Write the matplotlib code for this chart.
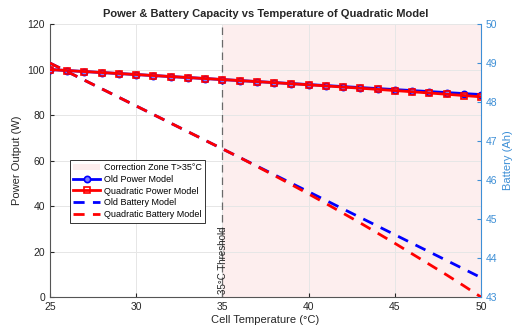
import matplotlib.pyplot as plt
import numpy as np

plt.rcParams['font.family'] = ['Liberation Sans', 'DejaVu Sans']

# data
temps = [25, 26, 27, 28, 29, 30, 31, 32, 33, 34, 35, 36, 37,
         38, 39, 40, 41, 42, 43, 44, 45, 46, 47, 48, 49, 50]
old_power = [100.0, 99.56, 99.12, 98.68, 98.24, 97.80, 97.36, 96.92, 96.48,
             96.04, 95.60, 95.16, 94.72, 94.28, 93.84, 93.40, 92.96, 92.52,
             92.08, 91.64, 91.20, 90.76, 90.32, 89.88, 89.44, 89.00]
quad_power = [100.0, 99.56, 99.12, 98.68, 98.24, 97.80, 97.36, 96.92, 96.48,
              96.04, 95.60, 95.15, 94.70, 94.24, 93.77, 93.29, 92.80, 92.30,
              91.80, 91.28, 90.76, 90.23, 89.69, 89.14, 88.58, 88.01]
old_batt = [49.00, 48.78, 48.56, 48.34, 48.12, 47.90, 47.68, 47.46, 47.24,
            47.02, 46.80, 46.58, 46.36, 46.14, 45.92, 45.70, 45.48, 45.26,
            45.04, 44.82, 44.60, 44.38, 44.16, 43.94, 43.72, 43.50]
quad_batt = [49.00, 48.78, 48.56, 48.34, 48.12, 47.90, 47.68, 47.46, 47.24,
             47.02, 46.80, 46.58, 46.35, 46.12, 45.885, 45.645, 45.40, 45.15,
             44.90, 44.64, 44.38, 44.11, 43.84, 43.57, 43.29, 43.00]
threshold = 35

blue_axis = '#3d8fd6'
dark = '#262626'

fig = plt.figure(figsize=(5.2, 3.29), dpi=100)
ax = fig.add_axes([0.096, 0.097, 0.829, 0.830])
ax2 = ax.twinx()

# shaded correction zone
zone = ax.axvspan(threshold, 50, color='#fdeeee', zorder=0, lw=0,
                  label='Correction Zone T>35°C')
ax.axvline(threshold, color='#6a6a6a', ls=(0, (6, 4)), lw=0.9, zorder=2)
ax.text(threshold + 0.05, 1.5, '35°C Threshold', rotation=90, fontsize=7,
        ha='center', va='bottom', color=dark, zorder=2.5)

# power
l1, = ax.plot(temps, old_power, '-o', color='#0000ff', lw=2, ms=4.5,
              mfc='#7f7fff', mew=1.2, label='Old Power Model', zorder=3)
l2, = ax.plot(temps, quad_power, '-s', color='#ff0000', lw=2, ms=3.8,
              mfc='none', mew=1.2, label='Quadratic Power Model', zorder=4)

# battery
l3, = ax2.plot(temps, old_batt, '--', color='#0000ff', lw=2,
               dashes=(4, 3), label='Old Battery Model')
l4, = ax2.plot(temps, quad_batt, '--', color='#ff0000', lw=2,
               dashes=(4, 3), label='Quadratic Battery Model')

ax.set_xlim(25, 50)
ax.set_ylim(0, 120)
ax2.set_ylim(43, 50)
ax.set_xticks([25, 30, 35, 40, 45, 50])
ax.set_yticks([0, 20, 40, 60, 80, 100, 120])
ax2.set_yticks([43, 44, 45, 46, 47, 48, 49, 50])

ax.grid(color='#e6e6e6', lw=0.7)
ax.tick_params(direction='in', labelsize=7.5, colors=dark, length=3)
ax2.tick_params(direction='in', labelsize=7.5, colors=blue_axis, length=3)

for a in (ax, ax2):
    a.spines['top'].set_visible(False)
ax.spines['left'].set_color('#555555')
ax.spines['bottom'].set_color('#555555')
ax.spines['right'].set_visible(False)
ax2.spines['left'].set_visible(False)
ax2.spines['bottom'].set_visible(False)
ax2.spines['right'].set_color(blue_axis)

ax.set_xlabel('Cell Temperature (°C)', fontsize=8, color=dark, labelpad=2)
ax.set_ylabel('Power Output (W)', fontsize=8, color=dark, labelpad=4)
ax2.set_ylabel('Battery (Ah)', fontsize=8, color=blue_axis, labelpad=4)
ax.set_title('Power & Battery Capacity vs Temperature of Quadratic Model',
             fontsize=8, fontweight='bold', color=dark, pad=5)

# legend
leg = ax2.legend([zone, l1, l2, l3, l4],
                 [h.get_label() for h in [zone, l1, l2, l3, l4]],
                 loc='upper left', bbox_to_anchor=(0.035, 0.52),
                 fontsize=6.5, fancybox=False, framealpha=1,
                 edgecolor='#333333', handlelength=3, borderpad=0.4,
                 labelspacing=0.3, handletextpad=0.4)
leg.get_frame().set_linewidth(0.7)

fig.savefig('out.png', dpi=100)
